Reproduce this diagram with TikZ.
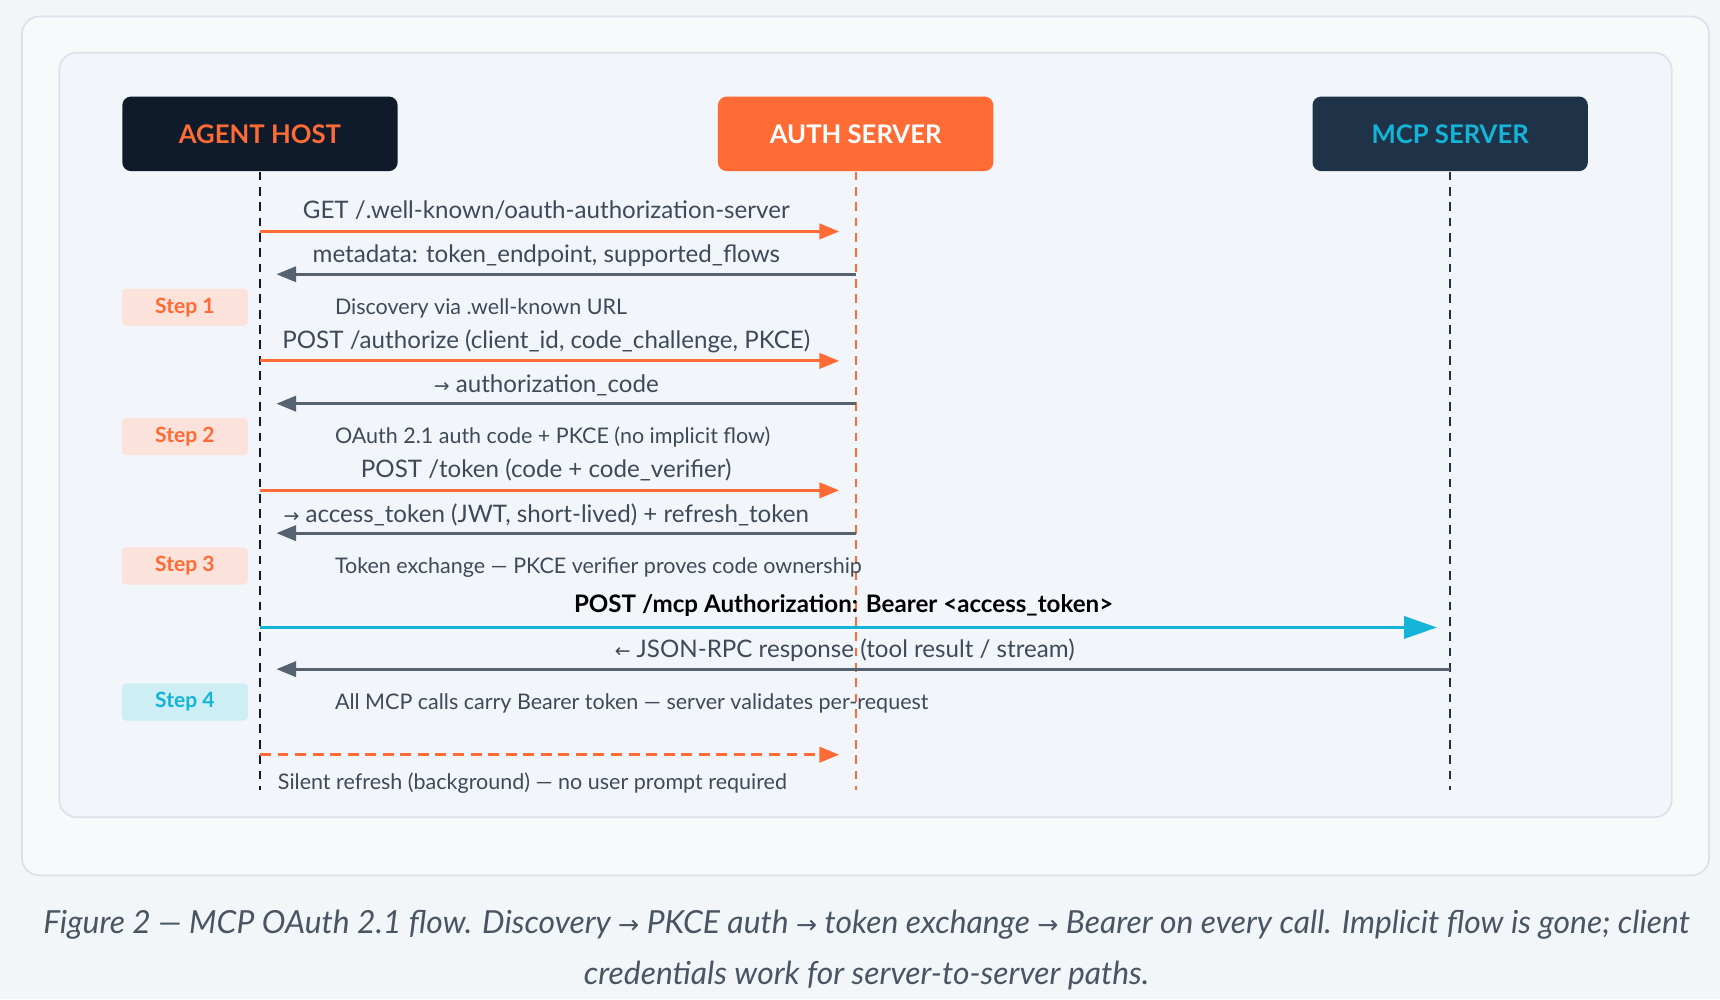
\documentclass[tikz,border=0pt]{standalone}
\usepackage{fontspec}
\setmainfont{Lato}
\usetikzlibrary{arrows.meta}
\definecolor{bg}{HTML}{F3F6F9}
\definecolor{card}{HTML}{F7F9FB}
\definecolor{panel}{HTML}{F2F5F9}
\definecolor{edge}{HTML}{DCE2E9}
\definecolor{navy}{HTML}{0F1B2A}
\definecolor{slate}{HTML}{1E3348}
\definecolor{orng}{HTML}{FF6B35}
\definecolor{cyn}{HTML}{14B4D8}
\definecolor{gry}{HTML}{556270}
\definecolor{txt}{HTML}{3E4A57}
\definecolor{capc}{HTML}{4A5563}
\definecolor{st}{HTML}{FBE3DC}
\definecolor{stc}{HTML}{CDEEF5}
\newcommand{\arr}[1]{{\fontspec{DejaVu Sans}\fontsize{8.6}{10}\selectfont #1}}
\newcommand{\carr}[1]{{\fontspec{DejaVu Sans}\fontsize{11.5}{23}\selectfont #1}}
\begin{document}
\begin{tikzpicture}[x=0.5pt,y=-0.5pt,
 actor/.style={rounded corners=4pt,minimum width=125.5pt,minimum height=34pt,font=\fontsize{11.7}{13}\selectfont\bfseries},
 life/.style={dash pattern=on 4pt off 3pt,line width=0.9pt},
 msg/.style={font=\fontsize{11}{12}\selectfont,text=txt,inner sep=0pt},
 note/.style={font=\fontsize{9.8}{11}\selectfont,text=txt,inner sep=0pt,anchor=west},
 stepbox/.style={rounded corners=2pt,minimum width=57.5pt,minimum height=17pt,font=\fontsize{9.6}{10}\selectfont\bfseries},
 req/.style={orng,line width=1.3pt,-{Triangle[length=9pt,width=7pt]}},
 rsp/.style={gry,line width=1.3pt,-{Triangle[length=9pt,width=7pt]}}]
\useasboundingbox (0,0) rectangle (1568,911);
\fill[bg] (0,0) rectangle (1568,911);
\draw[edge,fill=card,rounded corners=8pt,line width=0.8pt] (20,15) rectangle (1558,798);
\draw[edge,fill=panel,rounded corners=8pt,line width=0.8pt] (54,48) rectangle (1524,745);
\node[actor,fill=navy,text=orng] (A) at (237,122) {AGENT HOST};
\node[actor,fill=orng,text=white] (S) at (780,122) {AUTH SERVER};
\node[actor,fill=slate,text=cyn] (M) at (1322,122) {MCP SERVER};
\coordinate (Ae) at (237,720); \coordinate (Se) at (780,720); \coordinate (Me) at (1322,720);
\draw[life,navy] (A.south) -- (Ae);
\draw[life,orng,line width=0.8pt] (S.south) -- (Se);
\draw[life,slate] (M.south) -- (Me);
\foreach \n/\y in {1/211,2/250,3/329,4/368,5/447,6/486,7/572,8/610,9/688}{
 \coordinate (a\n) at (237,\y); \coordinate (al\n) at (252,\y);
 \coordinate (s\n) at (780,\y); \coordinate (sa\n) at (765,\y);
 \coordinate (m\n) at (1322,\y); \coordinate (ma\n) at (1310,\y);}
\draw[req] (a1) -- (sa1);
\node[msg] (l1) at (498,192) {GET /.well-known/oauth-authorization-server};
\draw[rsp] (s2) -- (al2);
\node[msg] (l2) at (498,233) {metadata: token\_endpoint, supported\_flows};
\node[stepbox,fill=st,text=orng] (st1) at (168.5,280) {Step 1};
\node[note] (n1) at (305,281) {Discovery via .well-known URL};
\draw[req] (a3) -- (sa3);
\node[msg] (l3) at (498,311) {POST /authorize (client\_id, code\_challenge, PKCE)};
\draw[rsp] (s4) -- (al4);
\node[msg] (l4) at (498,351) {\arr{→}\ authorization\_code};
\node[stepbox,fill=st,text=orng] (st2) at (168.5,398) {Step 2};
\node[note] (n2) at (305,398) {OAuth 2.1 auth code + PKCE (no implicit flow)};
\draw[req] (a5) -- (sa5);
\node[msg] (l5) at (498,428) {POST /token (code + code\_verifier)};
\draw[rsp] (s6) -- (al6);
\node[msg] (l6) at (498,469) {\arr{→}\ access\_token (JWT, short-lived) + refresh\_token};
\node[stepbox,fill=st,text=orng] (st3) at (168.5,516) {Step 3};
\node[note] (n3) at (305,517) {Token exchange — PKCE verifier proves code ownership};
\draw[cyn,line width=1.6pt,-{Triangle[length=15pt,width=10pt]}] (a7) -- (ma7);
\node[msg,text=black,font=\fontsize{11}{12}\selectfont\bfseries] (l7) at (769,552) {POST /mcp Authorization: Bearer <access\_token>};
\draw[rsp] (m8) -- (al8);
\node[msg] (l8) at (770,593) {\arr{←}\ JSON-RPC response (tool result / stream)};
\node[stepbox,fill=stc,text=cyn] (st4) at (168.5,640) {Step 4};
\node[note] (n4) at (305,641) {All MCP calls carry Bearer token — server validates per-request};
\draw[req,dash pattern=on 5pt off 3pt] (a9) -- (sa9);
\node[note] (n5) at (253,714) {Silent refresh (background) — no user prompt required};
\node[font=\fontsize{14.5}{23}\selectfont\itshape,text=capc,align=center] (cap) at (790,866) {Figure 2 — MCP OAuth 2.1 flow. Discovery \carr{→} PKCE auth \carr{→} token exchange \carr{→} Bearer on every call. Implicit flow is gone; client\\credentials work for server-to-server paths.};
\end{tikzpicture}
\end{document}
